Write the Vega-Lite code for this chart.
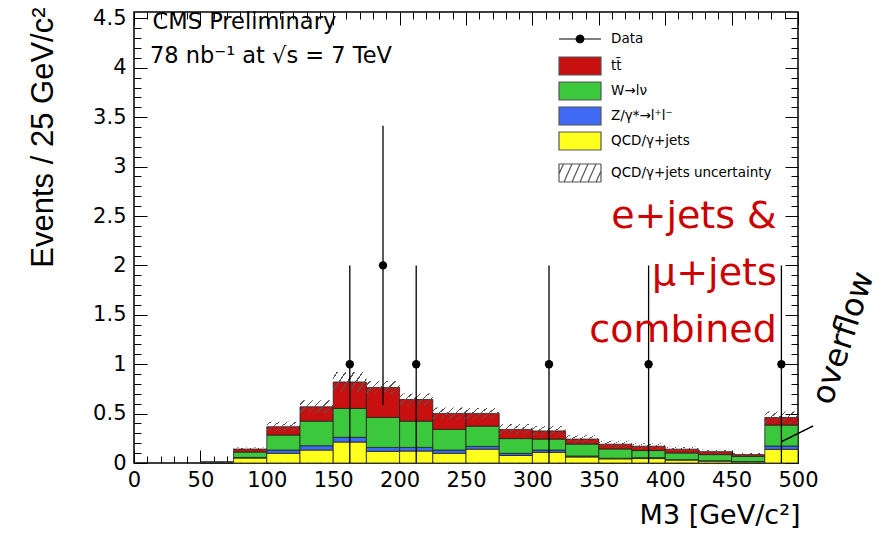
{
  "$schema": "https://vega.github.io/schema/vega-lite/v6.json",
  "width": 664,
  "height": 451,
  "autosize": {"type": "none"},
  "padding": {"left": 134, "top": 12, "right": 85, "bottom": 71},
  "background": "white",
  "config": {
    "view": {"stroke": "#000", "strokeWidth": 1.5},
    "font": "DejaVu Sans",
    "axis": {"domain": false, "grid": false, "tickColor": "#000", "tickWidth": 1, "labelColor": "#000", "labelFont": "DejaVu Sans", "labelFontSize": 21, "titleFont": "DejaVu Sans", "titleFontWeight": "normal", "titleFontSize": 27, "titleColor": "#000", "labelOverlap": false, "labelFlush": false},
    "legend": {"title": null, "orient": "none", "padding": 0, "symbolSize": 400, "labelOffset": 20, "rowPadding": 1, "labelLimit": 400, "labelFont": "DejaVu Sans", "labelFontSize": 13.5, "labelColor": "#000", "symbolStrokeWidth": 1.2}
  },
  "datasets": {
    "mc": [
      {"bin": 50, "bin_end": 75, "QCD": 0, "Z": 0, "W": 0.01, "tt": 0, "unc": 0.005},
      {"bin": 75, "bin_end": 100, "QCD": 0.05, "Z": 0.006, "W": 0.055, "tt": 0.03, "unc": 0.015},
      {"bin": 100, "bin_end": 125, "QCD": 0.098, "Z": 0.033, "W": 0.152, "tt": 0.084, "unc": 0.05},
      {"bin": 125, "bin_end": 150, "QCD": 0.131, "Z": 0.044, "W": 0.249, "tt": 0.145, "unc": 0.065},
      {"bin": 150, "bin_end": 175, "QCD": 0.212, "Z": 0.048, "W": 0.292, "tt": 0.268, "unc": 0.1},
      {"bin": 175, "bin_end": 200, "QCD": 0.118, "Z": 0.04, "W": 0.303, "tt": 0.304, "unc": 0.065},
      {"bin": 200, "bin_end": 225, "QCD": 0.121, "Z": 0.037, "W": 0.266, "tt": 0.219, "unc": 0.06},
      {"bin": 225, "bin_end": 250, "QCD": 0.098, "Z": 0.033, "W": 0.209, "tt": 0.162, "unc": 0.06},
      {"bin": 250, "bin_end": 275, "QCD": 0.14, "Z": 0.028, "W": 0.205, "tt": 0.129, "unc": 0.055},
      {"bin": 275, "bin_end": 300, "QCD": 0.076, "Z": 0.022, "W": 0.149, "tt": 0.093, "unc": 0.055},
      {"bin": 300, "bin_end": 325, "QCD": 0.108, "Z": 0.023, "W": 0.111, "tt": 0.083, "unc": 0.05},
      {"bin": 325, "bin_end": 350, "QCD": 0.061, "Z": 0.01, "W": 0.121, "tt": 0.05, "unc": 0.04},
      {"bin": 350, "bin_end": 375, "QCD": 0.042, "Z": 0.006, "W": 0.094, "tt": 0.048, "unc": 0.035},
      {"bin": 375, "bin_end": 400, "QCD": 0.045, "Z": 0.009, "W": 0.072, "tt": 0.044, "unc": 0.03},
      {"bin": 400, "bin_end": 425, "QCD": 0.03, "Z": 0.004, "W": 0.068, "tt": 0.038, "unc": 0.025},
      {"bin": 425, "bin_end": 450, "QCD": 0.02, "Z": 0.003, "W": 0.062, "tt": 0.03, "unc": 0.02},
      {"bin": 450, "bin_end": 475, "QCD": 0.012, "Z": 0.002, "W": 0.053, "tt": 0.018, "unc": 0.015},
      {"bin": 475, "bin_end": 500, "QCD": 0.138, "Z": 0.034, "W": 0.212, "tt": 0.077, "unc": 0.06}
    ],
    "obs": [
      {"m": 162.5, "n": 1, "lo": 0, "hi": 2},
      {"m": 187.5, "n": 2, "lo": 0.586, "hi": 3.414},
      {"m": 212.5, "n": 1, "lo": 0, "hi": 2},
      {"m": 312.5, "n": 1, "lo": 0, "hi": 2},
      {"m": 387.5, "n": 1, "lo": 0, "hi": 2},
      {"m": 487.5, "n": 1, "lo": 0, "hi": 2}
    ]
  },
  "resolve": {
    "axis": {"x": "independent", "y": "independent"},
    "scale": {"strokeDash": "independent"},
    "legend": {"strokeDash": "independent"}
  },
  "layer": [
    {
      "data": {"name": "mc"},
      "transform": [
        {"fold": ["QCD", "Z", "W", "tt"], "as": ["process", "events"]},
        {"calculate": "indexof(['QCD','Z','W','tt'], datum.process)", "as": "ord"},
        {"stack": "events", "groupby": ["bin"], "sort": [{"field": "ord", "order": "ascending"}], "as": ["y0", "y1"]}
      ],
      "mark": {"type": "rect", "stroke": "#222", "strokeWidth": 0.8},
      "encoding": {
        "x": {
          "field": "bin", "type": "quantitative",
          "scale": {"domain": [0, 500], "nice": false},
          "axis": {
            "orient": "bottom",
            "values": [0,10,20,30,40,50,60,70,80,90,100,110,120,130,140,150,160,170,180,190,200,210,220,230,240,250,260,270,280,290,300,310,320,330,340,350,360,370,380,390,400,410,420,430,440,450,460,470,480,490,500],
            "labelExpr": "datum.value % 50 === 0 ? datum.label : ''",
            "tickSize": {"condition": {"test": "datum.value % 50 === 0", "value": -13}, "value": -7},
            "labelPadding": 19,
            "title": "M3 [GeV/c²]",
            "titleAnchor": "end",
            "titleAlign": "right",
            "titleBaseline": "alphabetic",
            "titleX": 666,
            "titleY": 60
          }
        },
        "x2": {"field": "bin_end"},
        "y": {
          "field": "y0", "type": "quantitative",
          "scale": {"domain": [0, 4.565], "nice": false},
          "axis": {
            "orient": "left",
            "values": [0,0.1,0.2,0.3,0.4,0.5,0.6,0.7,0.8,0.9,1,1.1,1.2,1.3,1.4,1.5,1.6,1.7,1.8,1.9,2,2.1,2.2,2.3,2.4,2.5,2.6,2.7,2.8,2.9,3,3.1,3.2,3.3,3.4,3.5,3.6,3.7,3.8,3.9,4,4.1,4.2,4.3,4.4,4.5],
            "labelExpr": "abs(datum.value*2 - round(datum.value*2)) < 0.001 ? format(datum.value, '~g') : ''",
            "tickSize": {"condition": {"test": "abs(datum.value*2 - round(datum.value*2)) < 0.001", "value": -13}, "value": -7},
            "labelPadding": 21,
            "title": "Events / 25 GeV/c²",
            "titleFont": "Liberation Sans",
            "titleFontSize": 31,
            "titleAngle": -90,
            "titleAlign": "right",
            "titleBaseline": "alphabetic",
            "titleX": -82,
            "titleY": -5
          }
        },
        "y2": {"field": "y1"},
        "color": {
          "field": "process", "type": "nominal",
          "scale": {"domain": ["tt", "W", "Z", "QCD"], "range": ["#c81010", "#3cc83c", "#3f6bf4", "#ffff1e"]},
          "legend": {
            "legendX": 435,
            "legendY": 43,
            "symbolType": "M-2.1,-0.9H2.1V0.9H-2.1Z",
            "symbolStrokeColor": "#555",
            "labelExpr": "datum.label === 'tt' ? 'tt\u0304' : datum.label === 'W' ? 'W\u2192l\u03bd' : datum.label === 'Z' ? 'Z/\u03b3*\u2192l\u207al\u207b' : datum.label === 'QCD' ? 'QCD/\u03b3+jets' : datum.label"
          }
        }
      }
    },
    {
      "data": {"name": "mc"},
      "transform": [
        {"calculate": "datum.QCD + datum.Z + datum.W + datum.tt", "as": "total"},
        {"calculate": "datum.total - datum.unc", "as": "lo"},
        {"calculate": "datum.total + datum.unc", "as": "hi"}
      ],
      "mark": {
        "type": "rect",
        "strokeWidth": 0,
        "fill": {
          "gradient": "linear", "x1": 0, "y1": 0, "x2": 1.207, "y2": 0.483,
          "stops": [
            {"offset": 0, "color": "rgba(0,0,0,0)"},
            {"offset": 0.075, "color": "rgba(0,0,0,0)"}, {"offset": 0.075, "color": "#555"}, {"offset": 0.105, "color": "#555"}, {"offset": 0.105, "color": "rgba(0,0,0,0)"},
            {"offset": 0.255, "color": "rgba(0,0,0,0)"}, {"offset": 0.255, "color": "#555"}, {"offset": 0.285, "color": "#555"}, {"offset": 0.285, "color": "rgba(0,0,0,0)"},
            {"offset": 0.435, "color": "rgba(0,0,0,0)"}, {"offset": 0.435, "color": "#555"}, {"offset": 0.465, "color": "#555"}, {"offset": 0.465, "color": "rgba(0,0,0,0)"},
            {"offset": 0.615, "color": "rgba(0,0,0,0)"}, {"offset": 0.615, "color": "#555"}, {"offset": 0.645, "color": "#555"}, {"offset": 0.645, "color": "rgba(0,0,0,0)"},
            {"offset": 0.795, "color": "rgba(0,0,0,0)"}, {"offset": 0.795, "color": "#555"}, {"offset": 0.825, "color": "#555"}, {"offset": 0.825, "color": "rgba(0,0,0,0)"},
            {"offset": 0.965, "color": "rgba(0,0,0,0)"}, {"offset": 0.965, "color": "#555"}, {"offset": 0.995, "color": "#555"}, {"offset": 0.995, "color": "rgba(0,0,0,0)"},
            {"offset": 1, "color": "rgba(0,0,0,0)"}
          ]
        }
      },
      "encoding": {
        "x": {
          "field": "bin", "type": "quantitative",
          "axis": {
            "orient": "top",
            "values": [0,10,20,30,40,50,60,70,80,90,100,110,120,130,140,150,160,170,180,190,200,210,220,230,240,250,260,270,280,290,300,310,320,330,340,350,360,370,380,390,400,410,420,430,440,450,460,470,480,490,500],
            "labels": false,
            "title": null,
            "tickSize": {"condition": {"test": "datum.value % 50 === 0", "value": -13}, "value": -7}
          }
        },
        "x2": {"field": "bin_end"},
        "y": {
          "field": "lo", "type": "quantitative",
          "axis": {
            "orient": "right",
            "values": [0,0.1,0.2,0.3,0.4,0.5,0.6,0.7,0.8,0.9,1,1.1,1.2,1.3,1.4,1.5,1.6,1.7,1.8,1.9,2,2.1,2.2,2.3,2.4,2.5,2.6,2.7,2.8,2.9,3,3.1,3.2,3.3,3.4,3.5,3.6,3.7,3.8,3.9,4,4.1,4.2,4.3,4.4,4.5],
            "labels": false,
            "title": null,
            "tickSize": {"condition": {"test": "abs(datum.value*2 - round(datum.value*2)) < 0.001", "value": -13}, "value": -7}
          }
        },
        "y2": {"field": "hi"}
      }
    },
    {
      "data": {"name": "obs"},
      "mark": {"type": "rule", "color": "#000", "strokeWidth": 1.3},
      "encoding": {
        "x": {"field": "m", "type": "quantitative", "axis": null},
        "y": {"field": "lo", "type": "quantitative", "axis": null},
        "y2": {"field": "hi"},
        "strokeDash": {
          "datum": "Data", "type": "nominal",
          "scale": {"range": [[1, 0]]},
          "legend": {
            "legendX": 435,
            "legendY": 16,
            "symbolType": "M-2.1,0H2.1M-0.38,0A0.38,0.38 0 1,1 0.38,0A0.38,0.38 0 1,1 -0.38,0Z",
            "symbolFillColor": "#000",
            "symbolStrokeColor": "#000"
          }
        }
      }
    },
    {
      "data": {"name": "obs"},
      "mark": {"type": "point", "shape": "circle", "filled": true, "color": "#000", "opacity": 1, "size": 70},
      "encoding": {
        "x": {"field": "m", "type": "quantitative", "axis": null},
        "y": {"field": "n", "type": "quantitative", "axis": null}
      }
    },
    {
      "data": {"values": [{}]},
      "mark": {"type": "text", "text": "CMS Preliminary", "font": "DejaVu Sans", "fontSize": 22.5, "align": "left", "baseline": "alphabetic", "color": "#000"},
      "encoding": {
        "x": {"datum": 14, "type": "quantitative", "axis": null},
        "y": {"datum": 4.394, "type": "quantitative", "axis": null}
      }
    },
    {
      "data": {"values": [{}]},
      "mark": {"type": "text", "text": "78 nb⁻¹ at √s = 7 TeV", "font": "DejaVu Sans", "fontSize": 22.5, "align": "left", "baseline": "alphabetic", "color": "#000"},
      "encoding": {
        "x": {"datum": 12, "type": "quantitative", "axis": null},
        "y": {"datum": 4.05, "type": "quantitative", "axis": null}
      }
    },
    {
      "data": {"values": [{}]},
      "mark": {"type": "text", "text": ["e+jets &", "μ+jets", "combined"], "lineHeight": 57, "font": "DejaVu Sans", "fontSize": 38, "align": "right", "baseline": "alphabetic", "color": "#cc0000"},
      "encoding": {
        "x": {"datum": 484, "type": "quantitative", "axis": null},
        "y": {"datum": 2.38, "type": "quantitative", "axis": null}
      }
    },
    {
      "data": {"values": [{}]},
      "mark": {"type": "text", "text": "overflow", "font": "DejaVu Sans", "fontSize": 32, "align": "center", "baseline": "middle", "angle": 288, "color": "#000"},
      "encoding": {
        "x": {"datum": 534, "type": "quantitative", "axis": null},
        "y": {"datum": 1.266, "type": "quantitative", "axis": null}
      }
    },
    {
      "data": {"values": [{}]},
      "mark": {"type": "rule", "color": "#000", "strokeWidth": 1.5},
      "encoding": {
        "x": {"datum": 487.6, "type": "quantitative", "axis": null},
        "y": {"datum": 0.216, "type": "quantitative", "axis": null},
        "x2": {"datum": 511.4},
        "y2": {"datum": 0.375},
        "strokeDash": {
          "datum": "QCD/γ+jets uncertainty", "type": "nominal",
          "scale": {"range": [[1, 0]]},
          "legend": {
            "legendX": 435,
            "legendY": 150,
            "symbolType": "M-2.1,-0.9H2.1V0.9H-2.1ZM-2.1,0.1L-1.65,-0.9M-1.6,0.9L-0.8,-0.9M-0.8,0.9L0,-0.9M0,0.9L0.8,-0.9M0.8,0.9L1.6,-0.9M1.6,0.9L2.1,-0.2",
            "symbolFillColor": "#ffffff",
            "symbolStrokeColor": "#555"
          }
        }
      }
    }
  ]
}
